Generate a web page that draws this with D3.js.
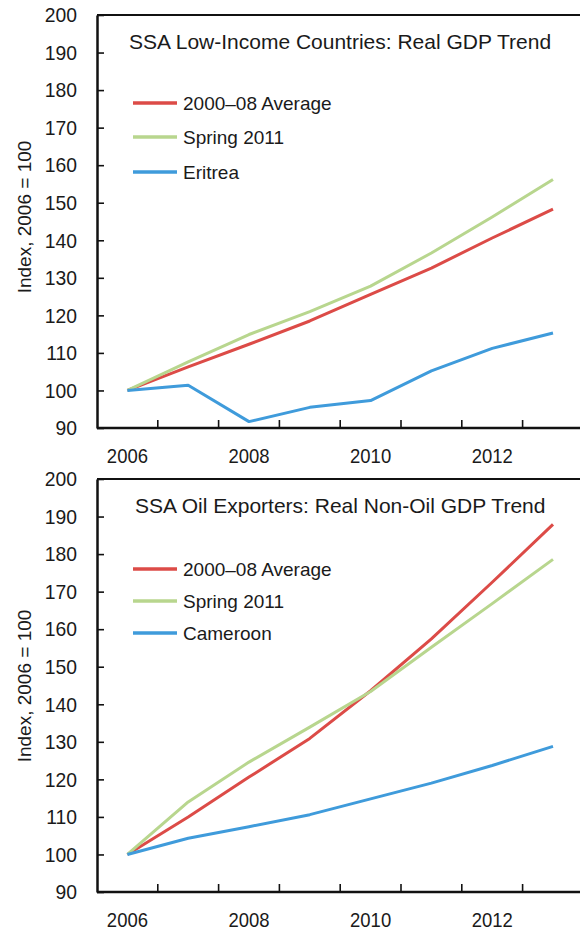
<!DOCTYPE html>
<html>
<head>
<meta charset="utf-8">
<script src="https://cdn.jsdelivr.net/npm/d3@7"></script>
<style>
	html, body { margin: 0; padding: 0; background: #fff; }
	svg text { font-family: "Liberation Sans Narrow", "Arial Narrow", "Liberation Sans", sans-serif; fill: #1a1a1a; }
</style>
</head>
<body>
<div class="charts"></div>
<script>

const years = [2006, 2007, 2008, 2009, 2010, 2011, 2012, 2013];
const yearLabels = [2006, 2008, 2010, 2012];
const yTicks = [90, 100, 110, 120, 130, 140, 150, 160, 170, 180, 190, 200];

const lowIncomeAverage = [100, 106.3, 112.3, 118.5, 125.6, 132.6, 140.6, 148.3];
const lowIncomeSpring = [100, 107.6, 114.9, 121.0, 127.8, 136.6, 146.2, 156.2];
const eritrea = [100, 101.4, 91.7, 95.5, 97.3, 105.2, 111.2, 115.3];

const oilAverage = [100, 110.0, 120.6, 130.9, 143.6, 157.4, 172.5, 187.9];
const oilSpring = [100, 114.0, 124.6, 133.9, 143.4, 155.2, 166.8, 178.6];
const cameroon = [100, 104.3, 107.4, 110.6, 114.8, 119.0, 123.7, 128.8];

const seriesColors = ['#dc4b47', '#b8d68e', '#3f9bdb'];

const width = 580;
const height = 930;

const svg = d3.select('.charts').append('svg')
	.attr('width', width)
	.attr('height', height);

// squeeze text a bit, the original uses a condensed face
function condense(sel, factor) {
	sel.each(function() {
		const w = this.getComputedTextLength();
		d3.select(this)
			.attr('textLength', w * factor)
			.attr('lengthAdjust', 'spacingAndGlyphs');
	});
}

function fitWidth(sel, target) {
	sel.each(function() {
		const w = this.getComputedTextLength();
		if (w > target) {
			d3.select(this)
				.attr('textLength', target)
				.attr('lengthAdjust', 'spacingAndGlyphs');
		}
	});
}

function drawChart(top, title, titleX, titleWidth, labelMid, legendNames, legendRows, series) {
	const plotTop = top;
	const plotBottom = top + 413;
	const left = 97;

	const x = d3.scaleBand()
		.domain(years)
		.range([left, left + 8 * 60.8]);

	const y = d3.scaleLinear()
		.domain([90, 200])
		.range([plotBottom, plotTop]);

	const g = svg.append('g');

	// frame top line
	g.append('line')
		.attr('x1', left)
		.attr('x2', width + 10)
		.attr('y1', plotTop)
		.attr('y2', plotTop)
		.attr('stroke', '#111')
		.attr('stroke-width', 2);

	const yAxis = d3.axisLeft(y)
		.tickValues(yTicks)
		.tickSizeInner(-7)
		.tickSizeOuter(0)
		.tickPadding(20);

	const yg = g.append('g')
		.attr('transform', `translate(${left},0)`)
		.call(yAxis);
	yg.select('.domain').attr('stroke', '#111').attr('stroke-width', 2.5);
	yg.selectAll('.tick line').attr('stroke', '#111').attr('stroke-width', 1.6);
	yg.selectAll('.tick text')
		.attr('font-size', 21)
		.attr('fill', '#1a1a1a')
		.call(condense, 0.92);

	const xAxis = d3.axisBottom(x)
		.tickValues(yearLabels)
		.tickSize(0)
		.tickPadding(20);

	const xg = g.append('g')
		.attr('transform', `translate(0,${plotBottom})`)
		.call(xAxis);
	xg.select('.domain').remove();
	xg.selectAll('.tick text')
		.attr('font-size', 21)
		.attr('fill', '#1a1a1a')
		.call(condense, 0.88);

	g.append('line')
		.attr('x1', left)
		.attr('x2', width + 10)
		.attr('y1', plotBottom)
		.attr('y2', plotBottom)
		.attr('stroke', '#111')
		.attr('stroke-width', 2.5);

	// year boundary ticks
	g.selectAll('.xtick')
		.data(years.slice(1))
		.enter()
		.append('line')
		.attr('x1', d => x(d))
		.attr('x2', d => x(d))
		.attr('y1', plotBottom)
		.attr('y2', plotBottom - 8)
		.attr('stroke', '#111')
		.attr('stroke-width', 1.6)
		.attr('class', 'xtick');

	g.append('text')
		.text('Index, 2006 = 100')
		.attr('transform', `translate(31,${plotTop + labelMid}) rotate(-90)`)
		.attr('text-anchor', 'middle')
		.attr('font-size', 19);

	g.append('text')
		.text(title)
		.attr('x', titleX)
		.attr('y', plotTop + 34)
		.attr('font-size', 21)
		.call(fitWidth, titleWidth);

	const line = d3.line()
		.x((d, i) => x(years[i]) + x.bandwidth() / 2)
		.y(d => y(d));

	g.selectAll('.series')
		.data(series)
		.enter()
		.append('path')
		.attr('d', d => line(d))
		.attr('fill', 'none')
		.attr('stroke', (d, i) => seriesColors[i])
		.attr('stroke-width', 3)
		.attr('stroke-linejoin', 'round')
		.attr('class', 'series');

	const legend = g.selectAll('.legend')
		.data(legendNames)
		.enter()
		.append('g')
		.attr('transform', (d, i) => `translate(0,${legendRows[i]})`)
		.attr('class', 'legend');

	legend.append('line')
		.attr('x1', 133)
		.attr('x2', 177)
		.attr('stroke', (d, i) => seriesColors[i])
		.attr('stroke-width', 3.5);

	legend.append('text')
		.text(d => d)
		.attr('x', 183)
		.attr('dy', 7)
		.attr('font-size', 19);
}

drawChart(15, 'SSA Low-Income Countries: Real GDP Trend', 129, 423, 202,
	['2000–08 Average', 'Spring 2011', 'Eritrea'], [103, 137, 172],
	[lowIncomeAverage, lowIncomeSpring, eritrea]);

drawChart(479, 'SSA Oil Exporters: Real Non-Oil GDP Trend', 135, 412, 207,
	['2000–08 Average', 'Spring 2011', 'Cameroon'], [569, 601, 633],
	[oilAverage, oilSpring, cameroon]);

</script>
</body>
</html>
